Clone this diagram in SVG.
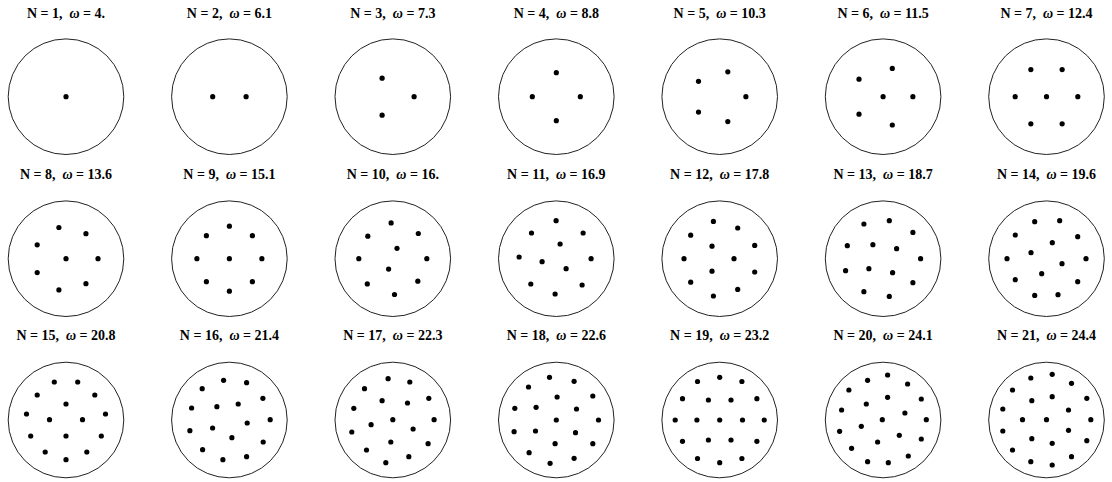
<svg xmlns="http://www.w3.org/2000/svg" xmlns:xlink="http://www.w3.org/1999/xlink" width="1112" height="482" viewBox="0 0 1112 482">
<style>
.c{fill:none;stroke:#222;stroke-width:1}
.t{font-family:"Liberation Serif","Times New Roman",serif;font-weight:bold;font-size:14px;fill:#000;text-anchor:middle;white-space:pre}
.w{font-style:italic}
</style>
<defs><circle id="d" r="2.6" fill="#000"/></defs>
<rect width="1112" height="482" fill="#fff"/>
<g id="n1" transform="translate(66,96.7)"><circle class="c" r="57.8"/><text class="t" y="-79" xml:space="preserve">N = 1,  <tspan class="w">ω</tspan> = 4.</text>
<use href="#d" x="0" y="0"/></g>
<g id="n2" transform="translate(229.4,96.7)"><circle class="c" r="57.8"/><text class="t" y="-79" xml:space="preserve">N = 2,  <tspan class="w">ω</tspan> = 6.1</text>
<use href="#d" x="-16.7" y="0"/><use href="#d" x="16.7" y="0"/></g>
<g id="n3" transform="translate(392.8,96.7)"><circle class="c" r="57.8"/><text class="t" y="-79" xml:space="preserve">N = 3,  <tspan class="w">ω</tspan> = 7.3</text>
<use href="#d" x="-10.7" y="-18.5"/><use href="#d" x="-10.7" y="18.5"/><use href="#d" x="21.3" y="0"/></g>
<g id="n4" transform="translate(556.3,96.7)"><circle class="c" r="57.8"/><text class="t" y="-79" xml:space="preserve">N = 4,  <tspan class="w">ω</tspan> = 8.8</text>
<use href="#d" x="0" y="-24"/><use href="#d" x="-24" y="0"/><use href="#d" x="24" y="0"/><use href="#d" x="0" y="24"/></g>
<g id="n5" transform="translate(719.7,96.7)"><circle class="c" r="57.8"/><text class="t" y="-79" xml:space="preserve">N = 5,  <tspan class="w">ω</tspan> = 10.3</text>
<use href="#d" x="26.2" y="0"/><use href="#d" x="8.1" y="-24.9"/><use href="#d" x="8.1" y="24.9"/><use href="#d" x="-21.2" y="-15.4"/><use href="#d" x="-21.2" y="15.4"/></g>
<g id="n6" transform="translate(883.1,96.7)"><circle class="c" r="57.8"/><text class="t" y="-79" xml:space="preserve">N = 6,  <tspan class="w">ω</tspan> = 11.5</text>
<use href="#d" x="0" y="0"/><use href="#d" x="29.8" y="0"/><use href="#d" x="9.2" y="-28.3"/><use href="#d" x="9.2" y="28.3"/><use href="#d" x="-24.1" y="-17.5"/><use href="#d" x="-24.1" y="17.5"/></g>
<g id="n7" transform="translate(1046.5,96.7)"><circle class="c" r="57.8"/><text class="t" y="-79" xml:space="preserve">N = 7,  <tspan class="w">ω</tspan> = 12.4</text>
<use href="#d" x="0" y="0"/><use href="#d" x="31.3" y="0"/><use href="#d" x="-31.3" y="0"/><use href="#d" x="15.65" y="-27.1"/><use href="#d" x="15.65" y="27.1"/><use href="#d" x="-15.65" y="-27.1"/><use href="#d" x="-15.65" y="27.1"/></g>

<g id="n8" transform="translate(66,258.7)"><circle class="c" r="57.8"/><text class="t" y="-79.7" xml:space="preserve">N = 8,  <tspan class="w">ω</tspan> = 13.6</text>
<use href="#d" x="0" y="0"/><use href="#d" x="32" y="0"/><use href="#d" x="19.95" y="-25"/><use href="#d" x="19.95" y="25"/><use href="#d" x="-7.1" y="-31.2"/><use href="#d" x="-7.1" y="31.2"/><use href="#d" x="-28.8" y="-13.9"/><use href="#d" x="-28.8" y="13.9"/></g>
<g id="n9" transform="translate(229.4,258.7)"><circle class="c" r="57.8"/><text class="t" y="-79.7" xml:space="preserve">N = 9,  <tspan class="w">ω</tspan> = 15.1</text>
<use href="#d" x="0" y="0"/><use href="#d" x="32.5" y="0"/><use href="#d" x="-32.5" y="0"/><use href="#d" x="0" y="-32.5"/><use href="#d" x="0" y="32.5"/><use href="#d" x="23" y="23"/><use href="#d" x="-23" y="23"/><use href="#d" x="23" y="-23"/><use href="#d" x="-23" y="-23"/></g>
<g id="n10" transform="translate(392.8,258.7)"><circle class="c" r="57.8"/><text class="t" y="-79.7" xml:space="preserve">N = 10,  <tspan class="w">ω</tspan> = 16.</text>
<use href="#d" x="-25" y="-22.5"/><use href="#d" x="25" y="22.5"/><use href="#d" x="-34" y="0"/><use href="#d" x="34" y="0"/><use href="#d" x="-25.5" y="25.2"/><use href="#d" x="25.5" y="-25.2"/><use href="#d" x="-1.7" y="-35.8"/><use href="#d" x="1.7" y="35.8"/><use href="#d" x="4.2" y="-10.4"/><use href="#d" x="-4.2" y="10.4"/></g>
<g id="n11" transform="translate(556.3,258.7)"><circle class="c" r="57.8"/><text class="t" y="-79.7" xml:space="preserve">N = 11,  <tspan class="w">ω</tspan> = 16.9</text>
<use href="#d" x="-0.2" y="-38"/><use href="#d" x="-24.8" y="-25.7"/><use href="#d" x="26.8" y="-25.7"/><use href="#d" x="3.8" y="-14.7"/><use href="#d" x="-37.2" y="-1.7"/><use href="#d" x="-14.2" y="3"/><use href="#d" x="34.8" y="0"/><use href="#d" x="9.8" y="10"/><use href="#d" x="-25.5" y="25.3"/><use href="#d" x="25.8" y="26.3"/><use href="#d" x="-1.2" y="35.3"/></g>
<g id="n12" transform="translate(719.7,258.7)"><circle class="c" r="57.8"/><text class="t" y="-79.7" xml:space="preserve">N = 12,  <tspan class="w">ω</tspan> = 17.8</text>
<use href="#d" x="-6.3" y="-37.3"/><use href="#d" x="-6.3" y="37.3"/><use href="#d" x="18" y="-30.7"/><use href="#d" x="18" y="30.7"/><use href="#d" x="-29" y="-23.5"/><use href="#d" x="-29" y="23.5"/><use href="#d" x="-7.7" y="-12.5"/><use href="#d" x="-7.7" y="12.5"/><use href="#d" x="-35.7" y="0"/><use href="#d" x="14.3" y="0"/><use href="#d" x="35" y="-13.3"/><use href="#d" x="35" y="13.3"/></g>
<g id="n13" transform="translate(883.1,258.7)"><circle class="c" r="57.8"/><text class="t" y="-79.7" xml:space="preserve">N = 13,  <tspan class="w">ω</tspan> = 18.7</text>
<use href="#d" x="-19.2" y="-34.7"/><use href="#d" x="6.2" y="-38"/><use href="#d" x="29.8" y="-26.3"/><use href="#d" x="-35.8" y="-13"/><use href="#d" x="-10.2" y="-14"/><use href="#d" x="13.5" y="-10"/><use href="#d" x="37.5" y="0"/><use href="#d" x="-37.5" y="12"/><use href="#d" x="-14.2" y="10"/><use href="#d" x="9.5" y="14"/><use href="#d" x="29.8" y="24"/><use href="#d" x="-19.2" y="33"/><use href="#d" x="6.2" y="37.7"/></g>
<g id="n14" transform="translate(1046.5,258.7)"><circle class="c" r="57.8"/><text class="t" y="-79.7" xml:space="preserve">N = 14,  <tspan class="w">ω</tspan> = 19.6</text>
<use href="#d" x="-11.8" y="-37"/><use href="#d" x="13.2" y="-38"/><use href="#d" x="-31.2" y="-23.7"/><use href="#d" x="31.2" y="-22"/><use href="#d" x="5.8" y="-16"/><use href="#d" x="-15.5" y="-6"/><use href="#d" x="-39.5" y="0"/><use href="#d" x="39.5" y="0"/><use href="#d" x="15.5" y="5"/><use href="#d" x="-4.8" y="15"/><use href="#d" x="-31.2" y="21"/><use href="#d" x="31.2" y="23"/><use href="#d" x="-11.8" y="36.7"/><use href="#d" x="11.5" y="36"/></g>

<g id="n15" transform="translate(66,420)"><circle class="c" r="57.8"/><text class="t" y="-79.7" xml:space="preserve">N = 15,  <tspan class="w">ω</tspan> = 20.8</text>
<use href="#d" x="-11.7" y="-38"/><use href="#d" x="11.7" y="-38"/><use href="#d" x="-28.8" y="-25"/><use href="#d" x="28.8" y="-25"/><use href="#d" x="0" y="-16"/><use href="#d" x="-39.5" y="-6"/><use href="#d" x="-16.5" y="-0.3"/><use href="#d" x="16.5" y="-0.3"/><use href="#d" x="39.5" y="-6"/><use href="#d" x="-35.3" y="16"/><use href="#d" x="0" y="16"/><use href="#d" x="35.3" y="16"/><use href="#d" x="-20.8" y="32"/><use href="#d" x="20.8" y="32"/><use href="#d" x="0" y="39.7"/></g>
<g id="n16" transform="translate(229.4,420)"><circle class="c" r="57.8"/><text class="t" y="-79.7" xml:space="preserve">N = 16,  <tspan class="w">ω</tspan> = 21.4</text>
<use href="#d" x="-5.8" y="-39.7"/><use href="#d" x="17.2" y="-37.3"/><use href="#d" x="-27.2" y="-31.3"/><use href="#d" x="33.5" y="-21.7"/><use href="#d" x="-37.8" y="-12"/><use href="#d" x="-12.5" y="-13.3"/><use href="#d" x="8.8" y="-16"/><use href="#d" x="40.8" y="-0.3"/><use href="#d" x="17.8" y="3"/><use href="#d" x="-39.5" y="10.7"/><use href="#d" x="-16.8" y="8"/><use href="#d" x="2.5" y="17.7"/><use href="#d" x="33.8" y="22"/><use href="#d" x="-26.8" y="29.7"/><use href="#d" x="-6.5" y="39.7"/><use href="#d" x="17.2" y="36.7"/></g>
<g id="n17" transform="translate(392.8,420)"><circle class="c" r="57.8"/><text class="t" y="-79.7" xml:space="preserve">N = 17,  <tspan class="w">ω</tspan> = 22.3</text>
<use href="#d" x="-4.7" y="-41.3"/><use href="#d" x="17" y="-38"/><use href="#d" x="-28.3" y="-31.3"/><use href="#d" x="-10.7" y="-19.3"/><use href="#d" x="14.7" y="-17"/><use href="#d" x="36" y="-21.7"/><use href="#d" x="-39" y="-11.7"/><use href="#d" x="0" y="-0.3"/><use href="#d" x="41.3" y="-0.3"/><use href="#d" x="-21.7" y="4.7"/><use href="#d" x="20.3" y="9"/><use href="#d" x="-41" y="12"/><use href="#d" x="-2" y="22"/><use href="#d" x="35.3" y="23.7"/><use href="#d" x="-26.3" y="30"/><use href="#d" x="-7" y="42.7"/><use href="#d" x="16" y="36.7"/></g>
<g id="n18" transform="translate(556.3,420)"><circle class="c" r="57.8"/><text class="t" y="-79.7" xml:space="preserve">N = 18,  <tspan class="w">ω</tspan> = 22.6</text>
<use href="#d" x="-6.8" y="-42.7"/><use href="#d" x="17.8" y="-38.7"/><use href="#d" x="-27.8" y="-33"/><use href="#d" x="0.8" y="-23"/><use href="#d" x="36.5" y="-24"/><use href="#d" x="-41.5" y="-11.7"/><use href="#d" x="-20.2" y="-12.7"/><use href="#d" x="20.2" y="-11"/><use href="#d" x="0" y="0"/><use href="#d" x="42.2" y="0"/><use href="#d" x="-42.2" y="11.7"/><use href="#d" x="-20.8" y="11"/><use href="#d" x="19.2" y="12.7"/><use href="#d" x="-1.2" y="23.7"/><use href="#d" x="36.5" y="23.7"/><use href="#d" x="-27.2" y="32.7"/><use href="#d" x="-6.2" y="43.3"/><use href="#d" x="17.8" y="38.3"/></g>
<g id="n19" transform="translate(719.7,420)"><circle class="c" r="57.8"/><text class="t" y="-79.7" xml:space="preserve">N = 19,  <tspan class="w">ω</tspan> = 23.2</text>
<use href="#d" x="0" y="-42.7"/><use href="#d" x="-22.2" y="-38.5"/><use href="#d" x="22.2" y="-38.5"/><use href="#d" x="-37.2" y="-21.3"/><use href="#d" x="-11.3" y="-20"/><use href="#d" x="11.3" y="-20"/><use href="#d" x="37.2" y="-21.3"/><use href="#d" x="-44.5" y="0"/><use href="#d" x="-22.8" y="0"/><use href="#d" x="0" y="0"/><use href="#d" x="22.8" y="0"/><use href="#d" x="44.5" y="0"/><use href="#d" x="-37.2" y="21.3"/><use href="#d" x="-11.3" y="20"/><use href="#d" x="11.3" y="20"/><use href="#d" x="37.2" y="21.3"/><use href="#d" x="-22.2" y="38.5"/><use href="#d" x="22.2" y="38.5"/><use href="#d" x="0" y="42.7"/></g>
<g id="n20" transform="translate(883.1,420)"><circle class="c" r="57.8"/><text class="t" y="-79.7" xml:space="preserve">N = 20,  <tspan class="w">ω</tspan> = 24.1</text>
<use href="#d" x="4.5" y="-45"/><use href="#d" x="-15.5" y="-39.7"/><use href="#d" x="24.5" y="-36"/><use href="#d" x="-34.2" y="-30"/><use href="#d" x="38.2" y="-21"/><use href="#d" x="4.5" y="-22.7"/><use href="#d" x="-16.8" y="-16"/><use href="#d" x="-41.5" y="-10"/><use href="#d" x="21.8" y="-7"/><use href="#d" x="-0.8" y="-0.3"/><use href="#d" x="43.2" y="-0.3"/><use href="#d" x="-21.8" y="6.3"/><use href="#d" x="-43.5" y="11.3"/><use href="#d" x="16.2" y="15.3"/><use href="#d" x="-5.5" y="22"/><use href="#d" x="38.2" y="19"/><use href="#d" x="-31.5" y="28.3"/><use href="#d" x="-15.5" y="41.7"/><use href="#d" x="5.2" y="42.7"/><use href="#d" x="25.2" y="36"/></g>
<g id="n21" transform="translate(1046.5,420)"><circle class="c" r="57.8"/><text class="t" y="-79.7" xml:space="preserve">N = 21,  <tspan class="w">ω</tspan> = 24.4</text>
<use href="#d" x="-15.7" y="-42"/><use href="#d" x="5.7" y="-45.7"/><use href="#d" x="25" y="-36.7"/><use href="#d" x="-34" y="-30"/><use href="#d" x="-14.7" y="-19.3"/><use href="#d" x="5.7" y="-23.3"/><use href="#d" x="40.3" y="-21.7"/><use href="#d" x="-43.7" y="-11"/><use href="#d" x="22" y="-10"/><use href="#d" x="-24" y="-0.3"/><use href="#d" x="0" y="-0.3"/><use href="#d" x="44.3" y="-0.3"/><use href="#d" x="-43.7" y="11"/><use href="#d" x="22" y="10.3"/><use href="#d" x="-14.7" y="18.7"/><use href="#d" x="5.7" y="23.3"/><use href="#d" x="40.3" y="20.7"/><use href="#d" x="-34" y="30"/><use href="#d" x="25" y="36.7"/><use href="#d" x="-15.7" y="41.7"/><use href="#d" x="5.7" y="45"/></g>
</svg>
